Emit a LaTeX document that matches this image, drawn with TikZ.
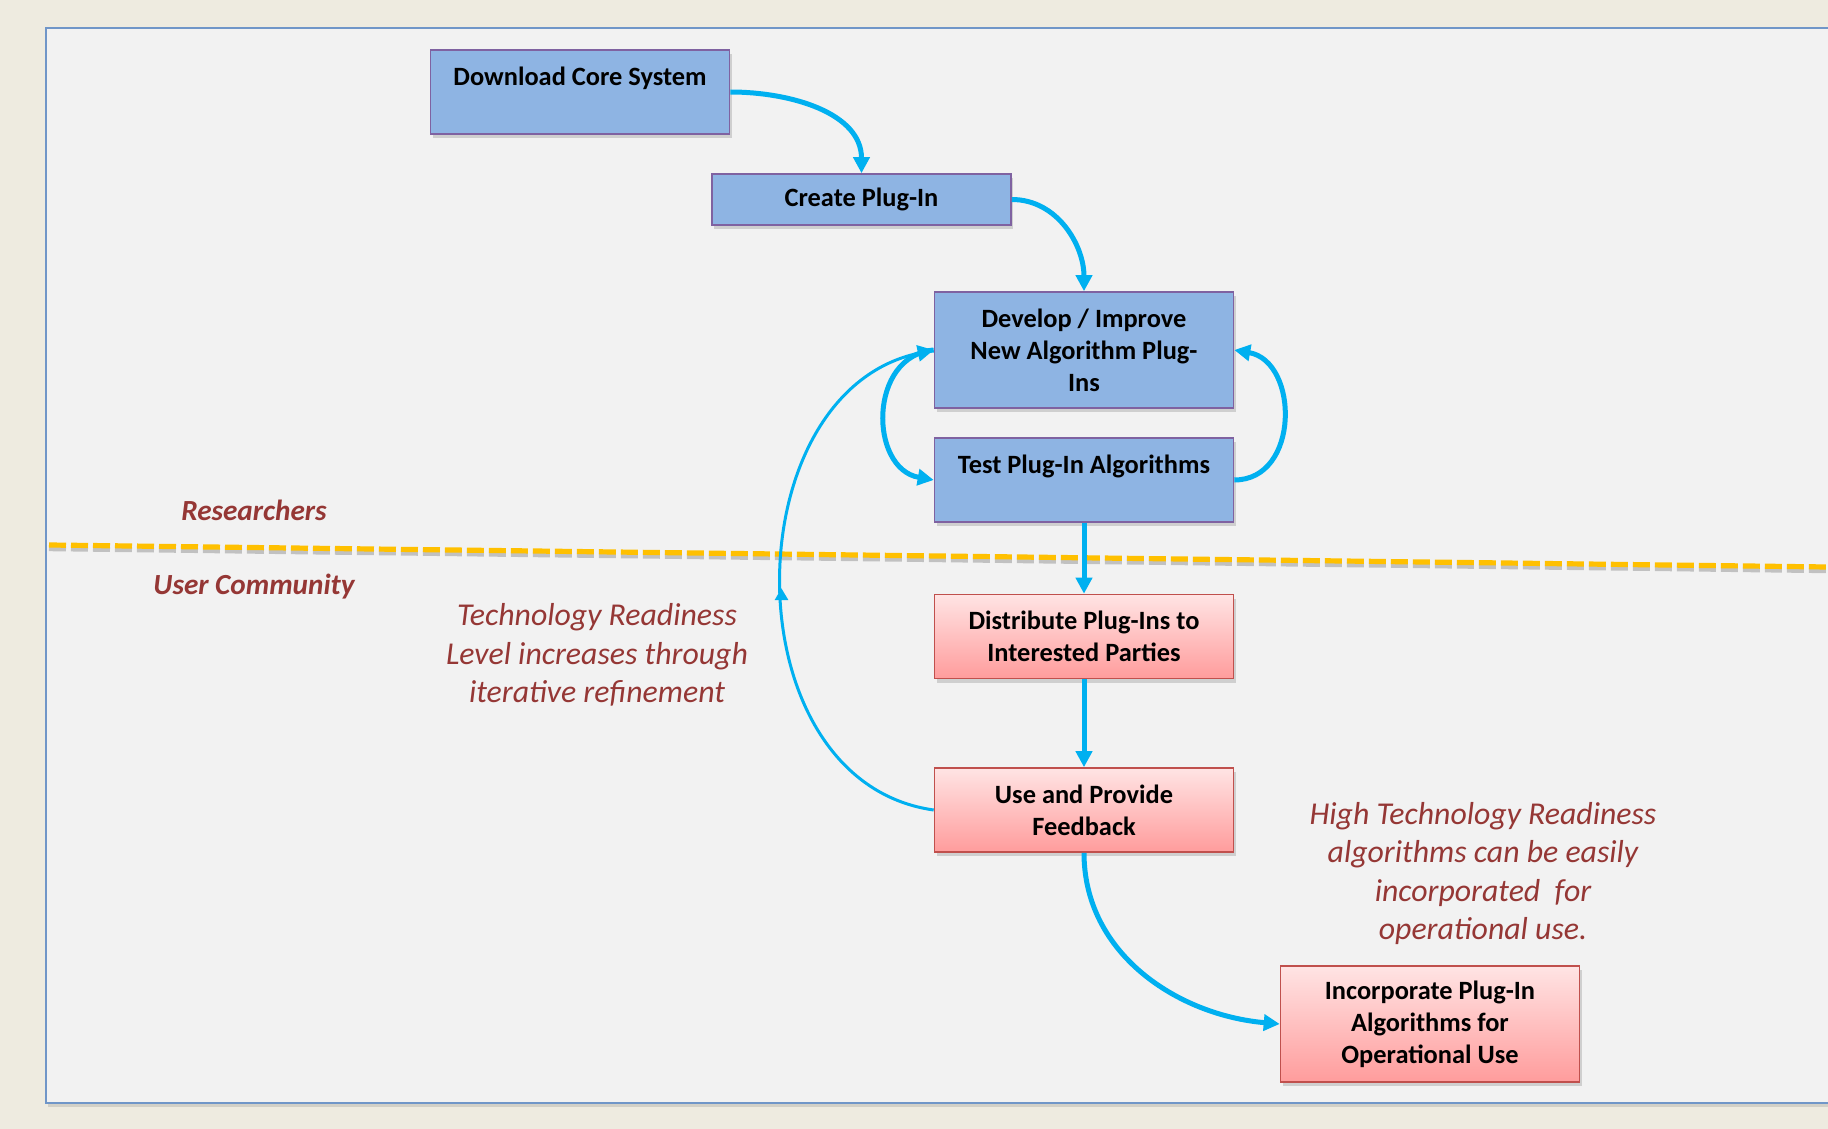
\documentclass[tikz,border=0pt]{standalone}
\usepackage{fontspec}
\setmainfont{Carlito}
\usetikzlibrary{arrows.meta,positioning,shadows,decorations.markings}
\definecolor{bgc}{HTML}{EEEBE0}
\definecolor{panelc}{HTML}{F2F2F2}
\definecolor{framec}{HTML}{7096C8}
\definecolor{Rc}{HTML}{8EB4E3}
\definecolor{Redge}{HTML}{7F62A1}
\definecolor{Utop}{HTML}{FFE4E4}
\definecolor{Ubot}{HTML}{FF9C9C}
\definecolor{Uedge}{HTML}{C0504D}
\definecolor{flowc}{HTML}{00B0F0}
\definecolor{divc}{HTML}{FFC000}
\definecolor{notec}{HTML}{953735}
\tikzset{
  box/.style={rectangle, line width=0.8pt, align=center, inner sep=0pt,
    minimum width=149.5pt, font=\bfseries\fontsize{13.2}{16}\selectfont,
    drop shadow={shadow xshift=1pt, shadow yshift=-2pt, opacity=0.3}},
  Rbox/.style={box, draw=Redge, fill=Rc},
  Ubox/.style={box, draw=Uedge, top color=Utop, bottom color=Ubot},
  flow/.style={-{Triangle[length=8pt, width=8pt]}, color=flowc, line width=2.5pt},
  back/.style={color=flowc, line width=1.5pt, postaction={decorate},
    decoration={markings, mark=at position 0.49 with {\arrow{Triangle[length=6pt, width=6.5pt]}}}},
  lane/.style={font=\bfseries\itshape\fontsize{14.6}{17}\selectfont, text=notec},
  remark/.style={font=\itshape\fontsize{15.9}{19.25}\selectfont, text=notec, align=center},
  divide/.style={line width=2.6pt, dash pattern=on 8.5pt off 2.5pt},
}

\begin{document}
\begin{tikzpicture}[x=0.5pt, y=0.5pt]
  \clip (0,0) rectangle (1828,-1129);
  \fill[bgc] (0,0) rectangle (1828,-1129);
  \draw[framec, fill=panelc, line width=1pt,
    drop shadow={shadow xshift=1pt, shadow yshift=-2pt, opacity=0.25}] (46,-28) rectangle (1860,-1103);
  \coordinate (divL) at (49,-545);
  \coordinate (divR) at (1828,-567);
  \draw[divide, black, opacity=0.2] ([yshift=-1.8pt]divL) -- ([yshift=-1.8pt]divR);
  \draw[divide, divc] (divL) -- (divR);

  \node[Rbox, minimum height=42pt] (dlcore) at (580,-92) {Download Core System\\ \mbox{}};
  \node[Rbox, minimum height=25.5pt, text depth=2pt] (mkplug) at (861.5,-199.5) {Create Plug-In};
  \node[Rbox, minimum height=58pt] (devplug) at (1084,-350) {Develop / Improve\\New Algorithm Plug-\\Ins};
  \node[Rbox, minimum height=42pt] (testplug) at (1084,-480) {Test Plug-In Algorithms\\ \mbox{}};
  \node[Ubox, minimum height=42pt] (distplug) at (1084,-636.5) {Distribute Plug-Ins to\\Interested Parties};
  \node[Ubox, minimum height=42pt] (usefb) at (1084,-810) {Use and Provide\\Feedback};
  \node[Ubox, minimum height=58pt] (incplug) at (1430,-1024) {Incorporate Plug-In\\Algorithms for\\Operational Use};

  \node[lane] (resr) at (254,-510) {Researchers};
  \node[lane] (usrc) at (254,-587) {User Community};
  \node[remark] (trlnote) at (597,-655) {Technology Readiness\\Level increases through\\iterative refinement};
  \node[remark] (opnote) at (1483,-873.5) {High Technology Readiness\\algorithms can be easily\\incorporated \ for\\operational use.};

  \draw[flow] (dlcore.east) to[out=0, in=90] (mkplug.north);
  \draw[flow] (mkplug.east) to[out=0, in=90] (devplug.north);
  \draw[flow] (devplug.west) to[out=185, in=170, looseness=1.3] (testplug.west);
  \draw[flow] (testplug.east) to[out=0, in=-10, looseness=1.3] (devplug.east);
  \draw[flow] (testplug.south) -- (distplug.north);
  \draw[flow] (distplug.south) -- (usefb.north);
  \draw[flow] (usefb.south) to[out=-90, in=175] (incplug.west);
  \draw[back, -{Triangle[length=8pt, width=8pt]}] (usefb.west) to[out=172, in=192, looseness=1.15] (devplug.west);
\end{tikzpicture}
\end{document}
